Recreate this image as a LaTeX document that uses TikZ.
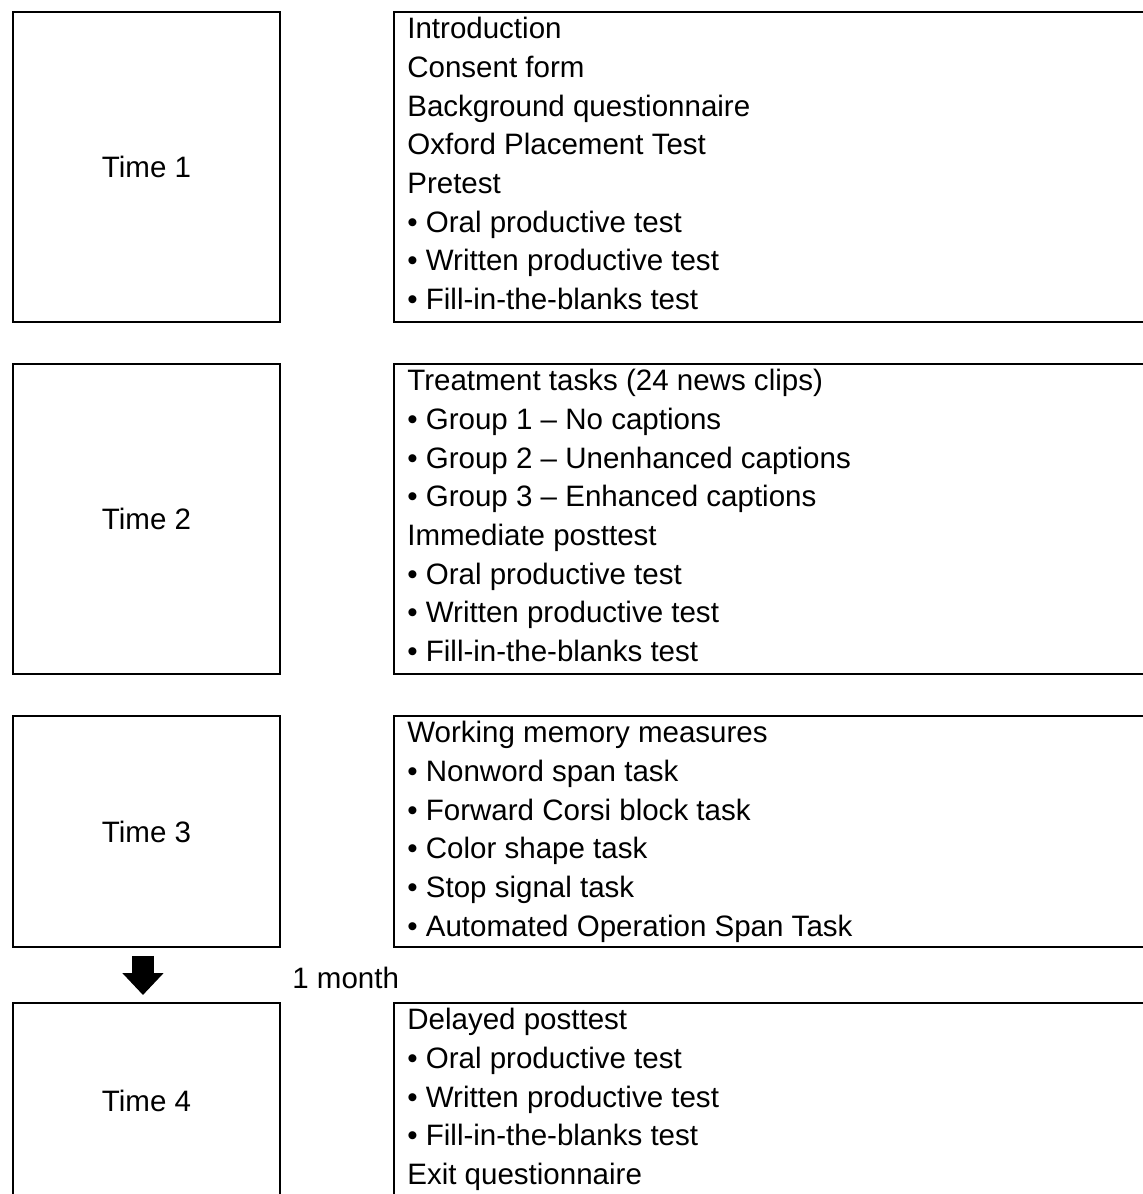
\documentclass[tikz,border=0pt]{standalone}
\usepackage{fontspec}
\setmainfont{Liberation Sans}
\usetikzlibrary{arrows.meta}

\begin{document}
\begin{tikzpicture}[x=0.02cm,y=-0.02cm,
  every node/.style={font=\fontsize{16.8}{22}\selectfont},
  timebox/.style={draw,line width=0.04cm,minimum width=5.34cm,inner sep=0pt,anchor=north west},
  listbox/.style={draw,line width=0.04cm,minimum width=15.4cm,inner sep=0pt,anchor=north west},
  listtext/.style={align=left,inner xsep=0.28cm,inner ysep=0.134cm,anchor=north west},
  bigarrow/.style={line width=0.44cm,-{Triangle[width=0.8cm,length=0.44cm]},shorten <=0.15cm,shorten >=0.13cm}]
\clip (0,0) rectangle (1143,1194);

\node [timebox,minimum height=6.22cm] (t1) at (12,10.5) {Time 1};
\node [listbox,minimum height=6.22cm] (l1) at (393,10.5) {};
\node [listtext] (x1) at (l1.north west) {Introduction\\Consent form\\Background questionnaire\\Oxford Placement Test\\Pretest\\
  \textbullet{} Oral productive test\\\textbullet{} Written productive test\\\textbullet{} Fill-in-the-blanks test};

\node [timebox,minimum height=6.22cm] (t2) at (12,362.5) {Time 2};
\node [listbox,minimum height=6.22cm] (l2) at (393,362.5) {};
\node [listtext] (x2) at (l2.north west) {Treatment tasks (24 news clips)\\\textbullet{} Group 1 -- No captions\\
  \textbullet{} Group 2 -- Unenhanced captions\\\textbullet{} Group 3 -- Enhanced captions\\Immediate posttest\\
  \textbullet{} Oral productive test\\\textbullet{} Written productive test\\\textbullet{} Fill-in-the-blanks test};

\node [timebox,minimum height=4.64cm] (t3) at (12,714.5) {Time 3};
\node [listbox,minimum height=4.64cm] (l3) at (393,714.5) {};
\node [listtext] (x3) at (l3.north west) {Working memory measures\\\textbullet{} Nonword span task\\
  \textbullet{} Forward Corsi block task\\\textbullet{} Color shape task\\\textbullet{} Stop signal task\\
  \textbullet{} Automated Operation Span Task};

\node [timebox,minimum height=3.92cm] (t4) at (12,1001.5) {Time 4};
\node [listbox,minimum height=3.92cm] (l4) at (393,1001.5) {};
\node [listtext] (x4) at (l4.north west) {Delayed posttest\\\textbullet{} Oral productive test\\
  \textbullet{} Written productive test\\\textbullet{} Fill-in-the-blanks test\\Exit questionnaire};

\draw [bigarrow] ([xshift=-0.07cm]t3.south) -- ([xshift=-0.07cm]t4.north);
\node [anchor=base west,inner sep=0pt] (gap) at (292,988.6) {1 month};
\end{tikzpicture}
\end{document}
